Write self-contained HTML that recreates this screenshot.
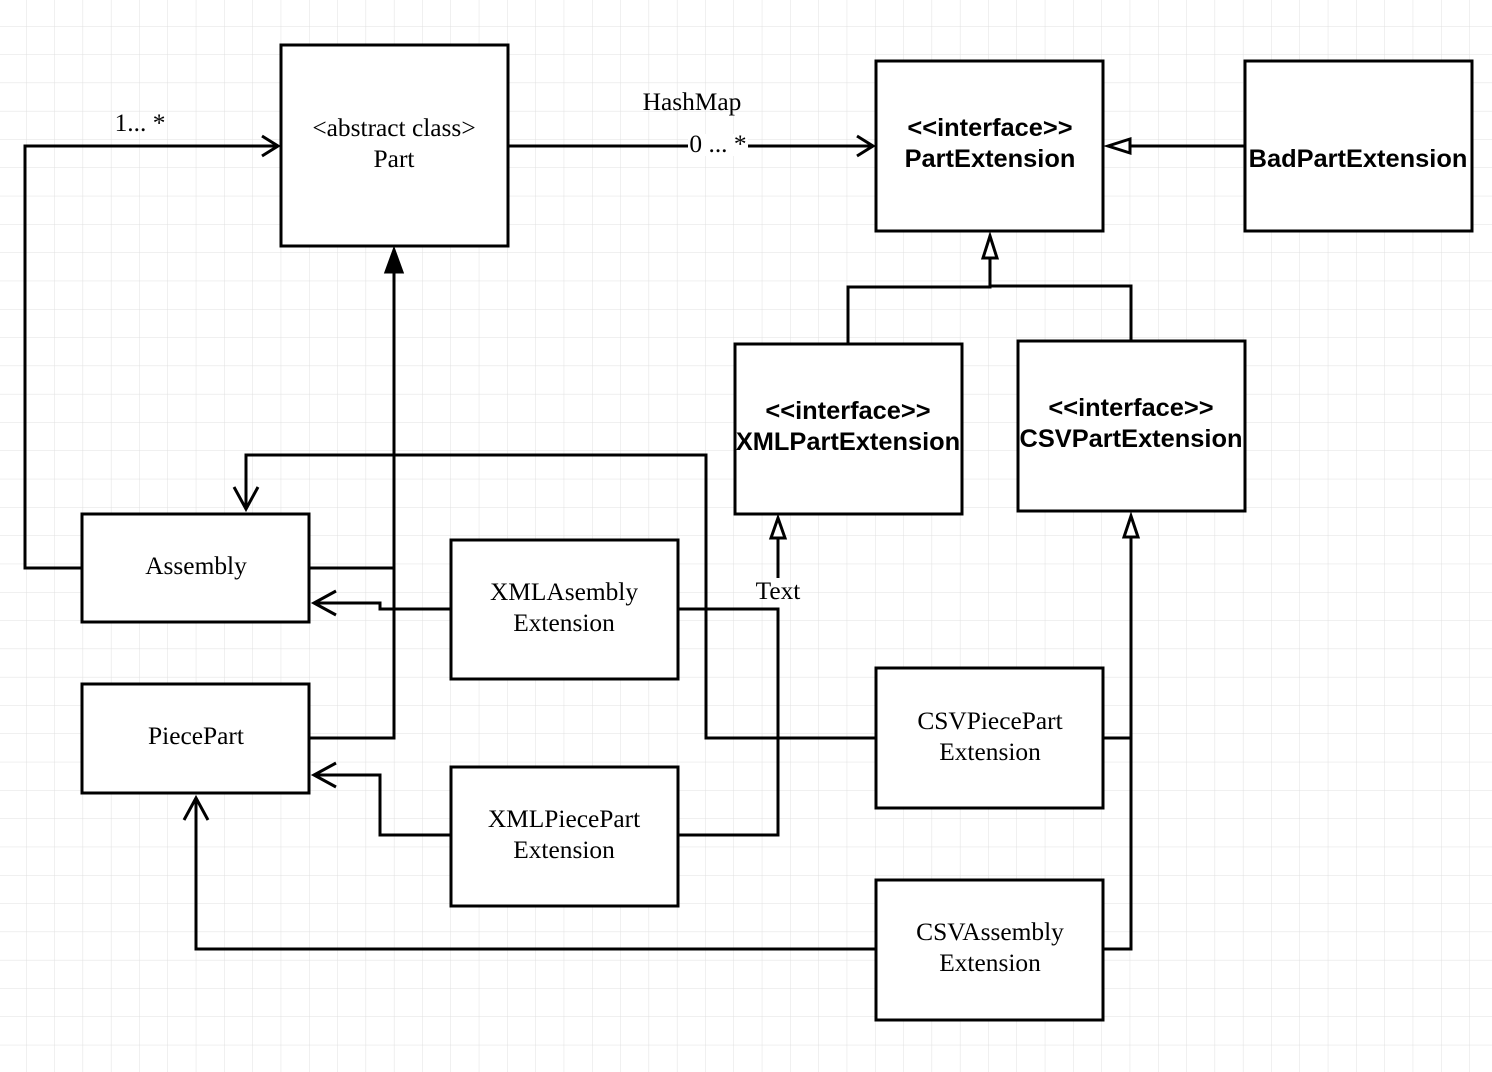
<!DOCTYPE html>
<html><head><meta charset="utf-8"><style>
html,body{margin:0;padding:0;background:#fff;}
svg{display:block;}
.s{font-family:"Liberation Serif",serif;font-size:25.4px;fill:#000;}
.b{font-family:"Liberation Sans",sans-serif;font-size:25.4px;font-weight:bold;fill:#000;}
</style></head><body>
<svg width="1492" height="1072" viewBox="0 0 1492 1072" xmlns="http://www.w3.org/2000/svg">
<defs>
<pattern id="g" x="26" y="26" width="28.3" height="28.3" patternUnits="userSpaceOnUse">
<path d="M0 0H28.3M0 0V28.3" stroke="#e0e0e0" stroke-width="1" fill="none"/>
</pattern>
</defs>
<rect width="1492" height="1072" fill="url(#g)"/>
<g fill="none" stroke="#000" stroke-width="3">
<polyline points="82,568 25,568 25,146 276,146"/>
<polyline points="262,136 278,146 262,156"/>
<polyline points="508,146 871,146"/>
<polyline points="857,136 873,146 857,156"/>
<line x1="1245" y1="146" x2="1130" y2="146"/>
<polygon points="1108,146 1130,139 1130,153" fill="#fff"/>
<polyline points="848,344 848,287 990,287 990,258"/>
<polyline points="1131,341 1131,286 990,286"/>
<polygon points="990,236 983,258 997,258" fill="#fff"/>
<polyline points="309,568 394,568"/>
<polyline points="309,738 394,738 394,272"/>
<polygon points="394,250 386,272 402,272" fill="#000"/>
<polyline points="876,738 706,738 706,455 246,455 246,509"/>
<polyline points="234,487 246,509 258,487"/>
<polyline points="451,609 380,609 380,603 314,603"/>
<polyline points="336,591 314,603 336,615"/>
<polyline points="678,609 778,609 778,835 678,835"/>
<line x1="778" y1="578" x2="778" y2="538"/>
<polygon points="778,518 771,538 785,538" fill="#fff"/>
<polyline points="451,835 380,835 380,775 314,775"/>
<polyline points="336,763 314,775 336,787"/>
<polyline points="1103,738 1131,738"/>
<polyline points="1103,949 1131,949 1131,537"/>
<polygon points="1131,516 1124,537 1138,537" fill="#fff"/>
<polyline points="876,949 196,949 196,798"/>
<polyline points="184,820 196,798 208,820"/>
<rect x="281" y="45" width="227" height="201" fill="#fff"/>
<rect x="876" y="61" width="227" height="170" fill="#fff"/>
<rect x="1245" y="61" width="227" height="170" fill="#fff"/>
<rect x="735" y="344" width="227" height="170" fill="#fff"/>
<rect x="1018" y="341" width="227" height="170" fill="#fff"/>
<rect x="82" y="514" width="227" height="108" fill="#fff"/>
<rect x="82" y="684" width="227" height="109" fill="#fff"/>
<rect x="451" y="540" width="227" height="139" fill="#fff"/>
<rect x="451" y="767" width="227" height="139" fill="#fff"/>
<rect x="876" y="668" width="227" height="140" fill="#fff"/>
<rect x="876" y="880" width="227" height="140" fill="#fff"/>
</g>
<rect x="688" y="134" width="60" height="22" fill="#fff"/>
<g text-anchor="middle">
<text class="s" x="140" y="131">1... *</text>
<text class="s" x="692" y="110">HashMap</text>
<text class="s" x="718" y="152">0 ... *</text>
<text class="s" x="394" y="136">&lt;abstract class&gt;</text>
<text class="s" x="394" y="167">Part</text>
<text class="b" x="990" y="136">&lt;&lt;interface&gt;&gt;</text>
<text class="b" x="990" y="167">PartExtension</text>
<text class="b" x="1358" y="167">BadPartExtension</text>
<text class="b" x="848" y="419">&lt;&lt;interface&gt;&gt;</text>
<text class="b" x="848" y="450">XMLPartExtension</text>
<text class="b" x="1131" y="416">&lt;&lt;interface&gt;&gt;</text>
<text class="b" x="1131" y="447">CSVPartExtension</text>
<text class="s" x="196" y="574">Assembly</text>
<text class="s" x="196" y="744">PiecePart</text>
<text class="s" x="564" y="600">XMLAsembly</text>
<text class="s" x="564" y="631">Extension</text>
<text class="s" x="564" y="827">XMLPiecePart</text>
<text class="s" x="564" y="858">Extension</text>
<text class="s" x="990" y="729">CSVPiecePart</text>
<text class="s" x="990" y="760">Extension</text>
<text class="s" x="990" y="940">CSVAssembly</text>
<text class="s" x="990" y="971">Extension</text>
<text class="s" x="778" y="599">Text</text>
</g>
</svg>
</body></html>
